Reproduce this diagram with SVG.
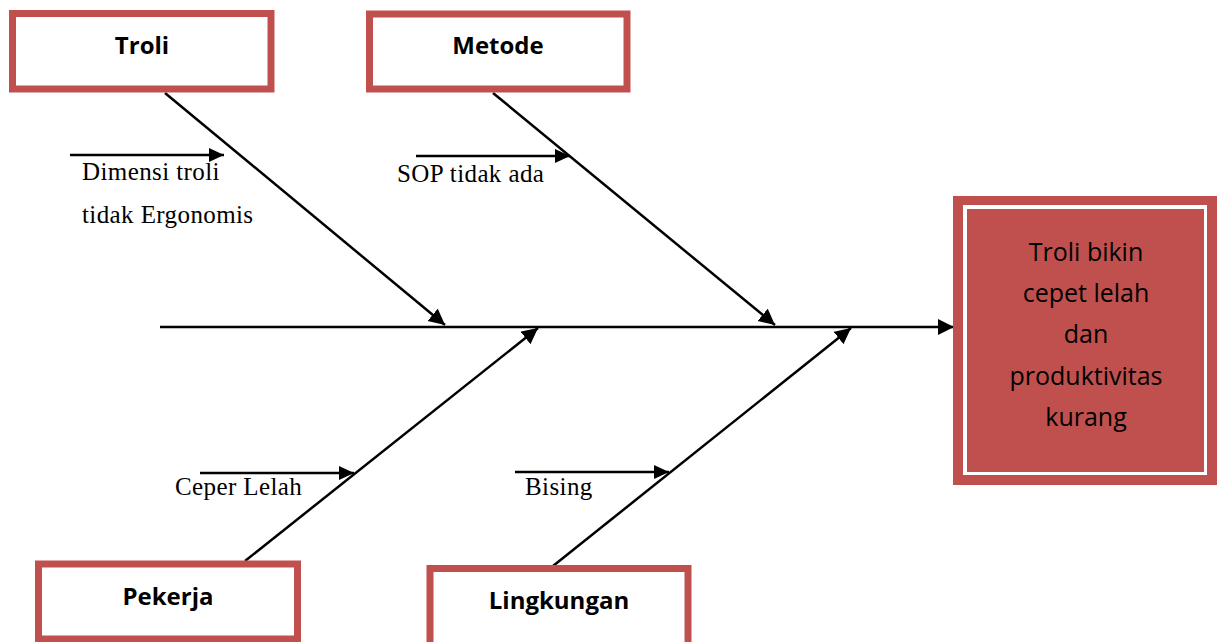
<svg xmlns="http://www.w3.org/2000/svg" width="1220" height="642" viewBox="0 0 1220 642">
<style>
.cat{fill:#fff;stroke:#C0504D;stroke-width:7}
.lbl{font-family:"Open Sans","Liberation Sans",sans-serif;font-weight:bold;font-size:24px;fill:#000;text-anchor:middle}
.eff{font-family:"Open Sans","Liberation Sans",sans-serif;font-size:25px;fill:#000;text-anchor:middle}
.sub{font-family:"Liberation Serif","Times New Roman",serif;font-size:25px;letter-spacing:0.4px;fill:#000}
.ln{stroke:#000;stroke-width:2.5;fill:none}
.big{marker-end:url(#ah)}
.small{marker-end:url(#as)}
</style>
<defs>
<marker id="ah" markerUnits="userSpaceOnUse" markerWidth="18" markerHeight="18" refX="16" refY="8" orient="auto">
<path d="M0,0 L16,8 L0,16 z" fill="#000"/>
</marker>
<marker id="as" markerUnits="userSpaceOnUse" markerWidth="18" markerHeight="16" refX="15" refY="7" orient="auto">
<path d="M0,0 L15,7 L0,14 z" fill="#000"/>
</marker>
</defs>
<rect width="1220" height="642" fill="#fff"/>
<g id="connectors">
<line class="ln big" x1="160" y1="327" x2="954" y2="327"/>
<line class="ln big" x1="165" y1="93" x2="445" y2="325"/>
<line class="ln big" x1="493" y1="93" x2="775" y2="325"/>
<line class="ln big" x1="245" y1="561" x2="538" y2="328"/>
<line class="ln big" x1="553" y1="566" x2="851" y2="328"/>
<line class="ln small" x1="70" y1="155" x2="224" y2="155"/>
<line class="ln small" x1="416" y1="156" x2="570" y2="156"/>
<line class="ln small" x1="200" y1="473" x2="354" y2="473"/>
<line class="ln small" x1="515" y1="472" x2="669" y2="472"/>
</g>
<g id="troli">
<rect class="cat" x="12.5" y="13.5" width="258.5" height="75.5"/>
<text class="lbl" x="142" y="54">Troli</text>
</g>
<g id="metode">
<rect class="cat" x="369.5" y="14" width="257.5" height="75"/>
<text class="lbl" x="498" y="54">Metode</text>
</g>
<g id="pekerja">
<rect class="cat" x="38.5" y="564" width="259" height="75"/>
<text class="lbl" x="168" y="605">Pekerja</text>
</g>
<g id="lingkungan">
<rect class="cat" x="430" y="568.5" width="258" height="80"/>
<text class="lbl" x="559" y="609">Lingkungan</text>
</g>
<g id="effect">
<rect x="953" y="196" width="264" height="289" fill="#C0504D"/>
<rect x="963" y="205" width="244" height="270" fill="#fff"/>
<rect x="967" y="209" width="237" height="263" fill="#C0504D"/>
<text class="eff" x="1086" y="261">Troli bikin</text>
<text class="eff" x="1086" y="302">cepet lelah</text>
<text class="eff" x="1086" y="343">dan</text>
<text class="eff" x="1086" y="385">produktivitas</text>
<text class="eff" x="1086" y="426">kurang</text>
</g>
<g id="causes">
<text class="sub" x="82" y="180">Dimensi troli</text>
<text class="sub" x="82" y="223">tidak Ergonomis</text>
<text class="sub" x="397" y="182">SOP tidak ada</text>
<text class="sub" x="175" y="495">Ceper Lelah</text>
<text class="sub" x="525" y="495">Bising</text>
</g>
</svg>
